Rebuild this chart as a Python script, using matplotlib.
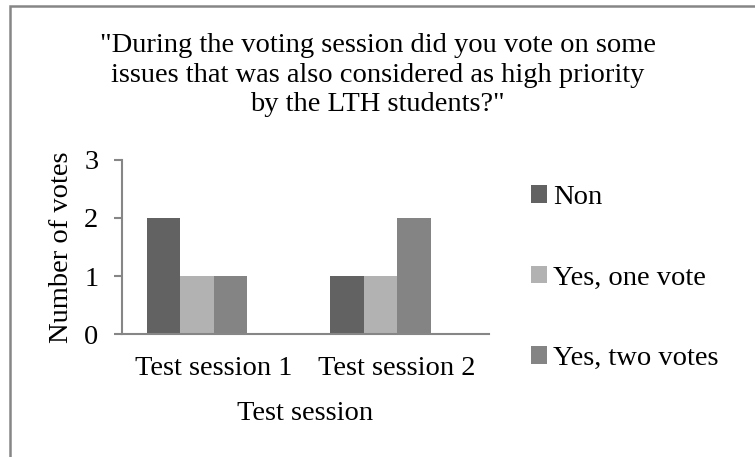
import matplotlib
matplotlib.use("Agg")
import matplotlib.pyplot as plt
import numpy as np
from matplotlib.patches import Rectangle

plt.rcParams['font.family'] = ['Liberation Serif', 'DejaVu Serif']

# data
sessions = ['Test session 1', 'Test session 2']
answers = ['Non', 'Yes, one vote', 'Yes, two votes']
votes = {
    'Non': [2, 1],
    'Yes, one vote': [1, 1],
    'Yes, two votes': [1, 2],
}
colours = ['#626262', '#b2b2b2', '#848484']
title = '"During the voting session did you vote on some\nissues that was also considered as high priority\nby the LTH students?"'

axis_grey = '#868686'
fs = 20.5

fig = plt.figure(figsize=(7.55, 4.57), dpi=100)
ax = fig.add_axes([122/755, 1 - 334/457, 367/755, 174/457])

x = np.arange(len(sessions))
w = 0.1826
# excel left room for a 4th (empty) slot in each group, so bars sit left of the tick
for i, (name, col) in enumerate(zip(answers, colours)):
    ax.bar(x + (i - 2) * w, votes[name], width=w, color=col, label=name, align='edge')

ax.set_xlim(-0.5, 1.5)
ax.set_ylim(0, 3)
ax.set_yticks([0, 1, 2, 3])
ax.set_xticks(x)
ax.set_xticklabels(sessions)

for s in ['top', 'right']:
    ax.spines[s].set_visible(False)
for s in ['left', 'bottom']:
    ax.spines[s].set_color(axis_grey)
    ax.spines[s].set_linewidth(1.5)
ax.tick_params(axis='y', length=6, width=1.5, color=axis_grey, pad=11, labelsize=fs)
ax.tick_params(axis='x', length=0, pad=16, labelsize=fs)

ax.set_ylabel('Number of votes', fontsize=fs)
ax.yaxis.set_label_coords(-0.13, 0.5)
ax.set_xlabel('Test session', fontsize=fs)
ax.xaxis.set_label_coords(0.5, -0.383)

fig.text(0.5, 1 - 75/457, title, ha='center', va='center', fontsize=fs,
         linespacing=1.25)

fig.legend(loc='upper left', bbox_to_anchor=(531/755, 1 - 185/457), frameon=False,
           fontsize=fs, handlelength=0.56, handleheight=0.56, handletextpad=0.22,
           labelspacing=1.95, borderpad=0, borderaxespad=0)

# outer chart border (cut off on the right and bottom in the reference)
fig.patches.append(Rectangle((10/755, -0.2), 1.2, 1.2 - 6/457, transform=fig.transFigure,
                             fill=False, edgecolor=axis_grey, linewidth=1.8))

fig.savefig('out.png', dpi=100)
